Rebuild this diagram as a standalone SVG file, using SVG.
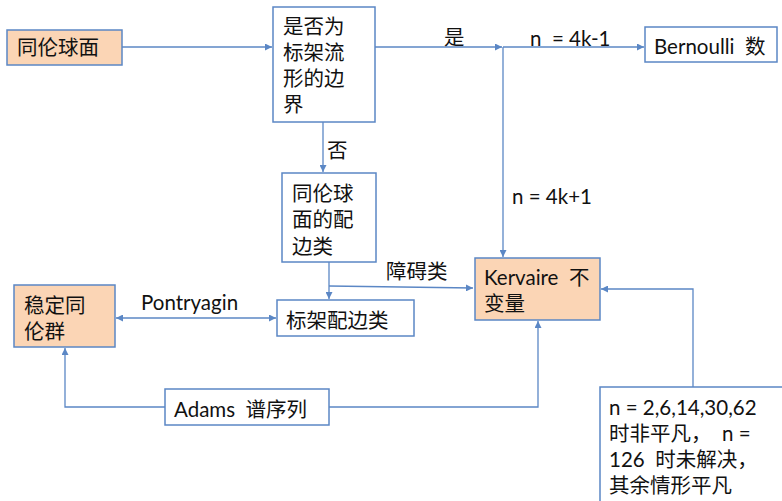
<svg xmlns="http://www.w3.org/2000/svg" width="782" height="501" viewBox="0 0 782 501">
<style>
.box{fill:#fff;stroke:#5B87C5;stroke-width:1.5}
.hl{fill:#FBD5B5;stroke:#5B87C5;stroke-width:1.5}
.ln{fill:none;stroke:#5B87C5;stroke-width:1.3}
text{font-family:Lato,"Noto Sans CJK SC",sans-serif;font-size:20.5px;fill:#111;white-space:pre}
</style>
<defs>
<marker id="ah" viewBox="0 0 10 10" refX="10" refY="5" markerWidth="7" markerHeight="7" orient="auto-start-reverse" markerUnits="userSpaceOnUse">
<path d="M0,0 L10,5 L0,10 z" fill="#5B87C5"/>
</marker>
</defs>
<g id="connectors">
<line class="ln" x1="122" y1="47" x2="272" y2="47" marker-end="url(#ah)"/>
<line class="ln" x1="375" y1="47" x2="502" y2="47" marker-end="url(#ah)"/>
<line class="ln" x1="503" y1="47" x2="644" y2="47" marker-end="url(#ah)"/>
<line class="ln" x1="503" y1="47" x2="503" y2="257" marker-end="url(#ah)"/>
<line class="ln" x1="323" y1="122" x2="323" y2="172" marker-end="url(#ah)"/>
<line class="ln" x1="329" y1="262" x2="329" y2="299" marker-end="url(#ah)"/>
<polyline class="ln" points="329,286 473,288" marker-end="url(#ah)"/>
<line class="ln" x1="116" y1="318" x2="276" y2="318" marker-start="url(#ah)" marker-end="url(#ah)"/>
<polyline class="ln" points="165,407 65,407 65,348" marker-end="url(#ah)"/>
<polyline class="ln" points="329,407 538,407 538,321" marker-end="url(#ah)"/>
<polyline class="ln" points="693,387 693,289 601,289" marker-end="url(#ah)"/>
<text x="444" y="45">是</text>
<text x="530" y="46" xml:space="preserve">n  = 4k-1</text>
<text x="512" y="204">n = 4k+1</text>
<text x="327" y="158">否</text>
<text x="386" y="279">障碍类</text>
<text x="141" y="310">Pontryagin</text>
</g>
<g id="n1"><rect class="hl" x="7" y="30" width="115" height="35"/><text x="17" y="55">同伦球面</text></g>
<g id="n2"><rect class="box" x="273" y="7" width="102" height="115"/>
<text x="283" y="34">是否为</text><text x="283" y="60">标架流</text><text x="283" y="86">形的边</text><text x="283" y="112">界</text></g>
<g id="n3"><rect class="box" x="645" y="27" width="132" height="35"/><text x="654" y="54" xml:space="preserve">Bernoulli  数</text></g>
<g id="n4"><rect class="box" x="282" y="173" width="94" height="89"/>
<text x="292" y="201">同伦球</text><text x="292" y="227">面的配</text><text x="292" y="254">边类</text></g>
<g id="n5"><rect class="hl" x="475" y="258" width="125" height="62"/>
<text x="484" y="285" xml:space="preserve">Kervaire  不</text><text x="484" y="311">变量</text></g>
<g id="n6"><rect class="box" x="277" y="300" width="137" height="36"/><text x="286" y="328">标架配边类</text></g>
<g id="n7"><rect class="hl" x="14" y="285" width="101" height="62"/>
<text x="24" y="313">稳定同</text><text x="24" y="339">伦群</text></g>
<g id="n8"><rect class="box" x="165" y="389" width="164" height="36"/><text x="174" y="417" xml:space="preserve">Adams  谱序列</text></g>
<g id="n9"><rect class="box" x="600" y="387" width="190" height="125"/>
<text x="609" y="415">n = 2,6,14,30,62</text><text x="609" y="441" xml:space="preserve">时非平凡，  n =</text><text x="609" y="467" xml:space="preserve">126  时未解决，</text><text x="609" y="493">其余情形平凡</text></g>
</svg>
